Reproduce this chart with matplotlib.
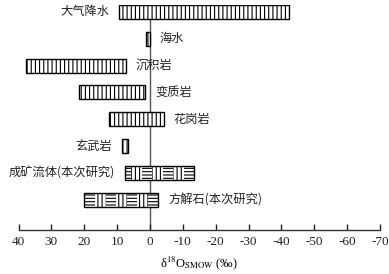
import numpy as np
import matplotlib
matplotlib.use('Agg')
import matplotlib.pyplot as plt

plt.rcParams['font.family'] = ['Liberation Serif', 'Noto Sans CJK SC', 'DejaVu Sans']
plt.rcParams['axes.unicode_minus'] = False
plt.rcParams['mathtext.fontset'] = 'stix'
plt.rcParams['hatch.linewidth'] = 0.8

# 氧同位素范围 (δ18O, ‰)
labels = ['大气降水', '海水', '沉积岩', '变质岩', '花岗岩', '玄武岩',
          '成矿流体(本次研究)', '方解石(本次研究)']
d18o_max = [9.3, 1.3, 37.7, 21.7, 12.6, 8.6, 7.7, 20.1]
d18o_min = [-42.3, 0.0, 7.4, 1.4, -4.3, 6.8, -13.5, -2.6]
label_side = ['left', 'right', 'right', 'right', 'right', 'left', 'left', 'right']
this_study = [False, False, False, False, False, False, True, True]
xticks = [40, 30, 20, 10, 0, -10, -20, -30, -40, -50, -60, -70]

fig = plt.figure(figsize=(3.89, 2.74), dpi=100)
ax = fig.add_axes([18.5/389, 1-230/274, (380-18.5)/389, 225/274])

h = 0.52
seg = 3.2
cjk = ['Noto Sans CJK SC', 'Liberation Serif']
for i in range(len(labels)):
    a, b = d18o_min[i], d18o_max[i]
    if this_study[i]:
        edges = np.arange(a, b, seg)
        edges = np.append(edges, b)
        for k in range(len(edges)-1):
            ax.barh(i, edges[k+1]-edges[k], left=edges[k], height=h,
                    color='white', edgecolor='black', linewidth=0,
                    hatch='-----' if k % 2 == 0 else '||||', zorder=3)
        ax.barh(i, b-a, left=a, height=h, fill=False, edgecolor='black',
                linewidth=1.0, zorder=4)
    else:
        ax.barh(i, b-a, left=a, height=h, color='white', edgecolor='black',
                linewidth=1.0, hatch='||||', zorder=3)
    if label_side[i] == 'left':
        ax.annotate(labels[i], (b, i), xytext=(-7, 0), textcoords='offset points',
                    ha='right', va='center', fontsize=8.8,
                    family=cjk, color='#222222')
    else:
        ax.annotate(labels[i], (a, i), xytext=(7, 0), textcoords='offset points',
                    ha='left', va='center', fontsize=8.8,
                    family=cjk, color='#222222')

ax.axvline(0, color='#555555', linewidth=1.0, zorder=1)

ax.set_xlim(40, -70)
ax.set_ylim(8.13, -0.26)
ax.set_xticks(xticks)
ax.set_yticks([])
for s in ['left', 'top', 'right']:
    ax.spines[s].set_visible(False)
ax.spines['bottom'].set_color('#333333')
ax.spines['bottom'].set_linewidth(1.0)
ax.tick_params(axis='x', direction='in', length=4, width=1, pad=4,
               labelsize=9.5, colors='#222222')
ax.set_xlabel('δ$^{18}$O$_{\\mathrm{SMOW}}$ (‰)', fontsize=9, labelpad=5)

fig.savefig('out.png', dpi=100)
